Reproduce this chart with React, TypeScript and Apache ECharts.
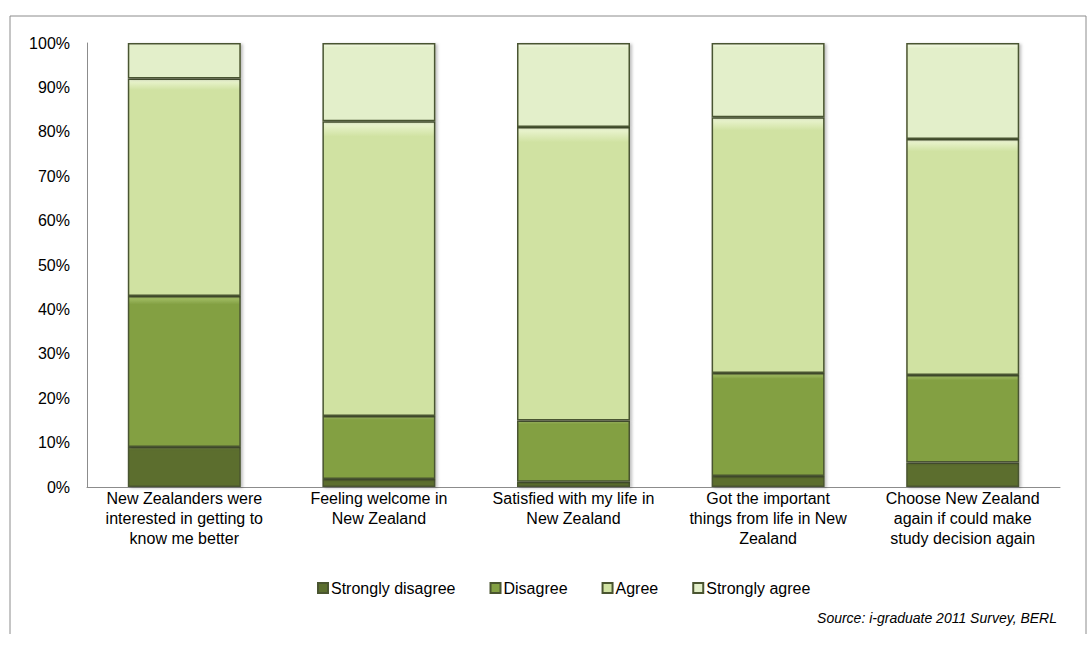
import React, { useEffect, useRef } from "react";
import * as echarts from "echarts";

const categories = [
  "New Zealanders were\ninterested in getting to\nknow me better",
  "Feeling welcome in\nNew Zealand",
  "Satisfied with my life in\nNew Zealand",
  "Got the important\nthings from life in New\nZealand",
  "Choose New Zealand\nagain if could make\nstudy decision again",
];
const seriesNames = ["Strongly disagree", "Disagree", "Agree", "Strongly agree"];
const stronglyDisagree = [9, 1.8, 1.2, 2.5, 5.5];
const disagree = [34, 14.2, 13.8, 23.2, 19.7];
const agree = [49, 66.4, 66.1, 57.6, 53.2];
const stronglyAgree = [8, 17.6, 18.9, 16.7, 21.6];
const yTicks = [0, 10, 20, 30, 40, 50, 60, 70, 80, 90, 100];
const sourceText = "Source: i-graduate 2011 Survey, BERL";

const baseColors = ["#5b6e2e", "#83a043", "#d0e2a2", "#e3efca"];
const topColors = ["#8fa35a", "#a9c46c", "#eef7d6", "#f3f9e4"];

function fill(i: number) {
  return new echarts.graphic.LinearGradient(0, 0, 0, 1, [
    { offset: 0, color: topColors[i] },
    { offset: 0.05, color: baseColors[i] },
    { offset: 1, color: baseColors[i] },
  ]);
}

export default function App() {
  const ref = useRef<HTMLDivElement>(null);
  useEffect(() => {
    if (!ref.current) return;
    const chart = echarts.init(ref.current, null, { renderer: "svg" });
    const values = [stronglyDisagree, disagree, agree, stronglyAgree];
    chart.setOption({
      animation: false,
      backgroundColor: "#ffffff",
      textStyle: { fontFamily: "Liberation Sans, Arial, sans-serif" },
      graphic: [
        {
          type: "polyline",
          shape: { points: [[10, 634], [10, 16], [1086, 16], [1086, 634]] },
          style: { stroke: "#8c8c8c", lineWidth: 1, fill: "none" },
          silent: true,
        },
        {
          type: "text",
          right: 32,
          top: 611,
          style: {
            text: sourceText,
            fontSize: 14,
            fontStyle: "italic",
            fill: "#000",
            fontFamily: "Liberation Sans, Arial, sans-serif",
          },
        },
      ],
      grid: { left: 87, top: 43, width: 973, height: 444, containLabel: false },
      legend: {
        data: seriesNames,
        left: 312,
        top: 575,
        itemWidth: 10,
        itemHeight: 10,
        itemGap: 34,
        icon: "rect",
        textStyle: { fontSize: 16, color: "#000", padding: [0, 0, 0, -2] },
      },
      xAxis: {
        type: "category",
        data: categories,
        axisLine: { lineStyle: { color: "#8c8c8c", width: 1 } },
        axisTick: { show: false },
        axisLabel: {
          interval: 0,
          fontSize: 16,
          color: "#000",
          lineHeight: 20,
          margin: 1,
        },
      },
      yAxis: {
        type: "value",
        min: 0,
        max: 100,
        interval: 10,
        axisLine: { show: true, lineStyle: { color: "#8c8c8c", width: 1 } },
        axisTick: { show: false },
        splitLine: { show: false },
        axisLabel: {
          fontSize: 16,
          color: "#000",
          margin: 17,
          formatter: (v: number) => (yTicks.includes(v) ? v + "%" : ""),
        },
      },
      series: values.map((arr, i) => ({
        name: seriesNames[i],
        type: "bar",
        stack: "total",
        barWidth: 113,
        data: arr,
        itemStyle: {
          color: fill(i),
          borderColor: "#4a5530",
          borderWidth: 1.5,
          shadowColor: "rgba(0,0,0,0.25)",
          shadowBlur: 3,
          shadowOffsetX: 2,
          shadowOffsetY: 1,
        },
      })),
    });
    return () => chart.dispose();
  }, []);
  return (
    <div
      ref={ref}
      style={{ position: "fixed", left: 0, top: 0, width: 1089, height: 646 }}
    />
  );
}
